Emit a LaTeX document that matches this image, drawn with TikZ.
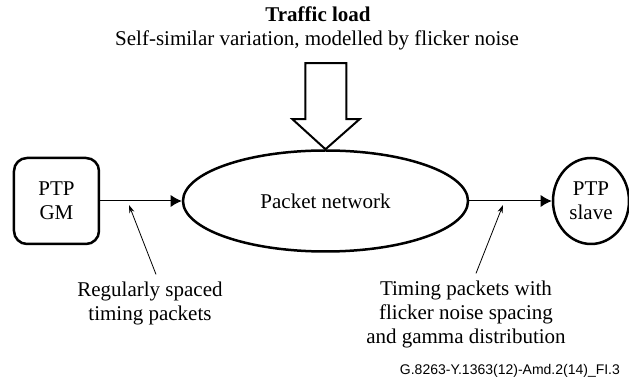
\documentclass[tikz,border=0pt]{standalone}
\usepackage{fontspec}
\setmainfont{Liberation Serif}
\setsansfont{Liberation Sans}
\usetikzlibrary{shapes.geometric,arrows.meta}
\begin{document}
\begin{tikzpicture}  [x=0.5pt,y=-0.5pt,
	every node/.style={font=\fontsize{10.5}{12}\selectfont, align=center},
	gmbox/.style={draw, line width=1.25pt, rounded corners=6.5pt, minimum width=42.5pt, minimum height=43pt, inner sep=0pt},
	netshape/.style={draw, ellipse, line width=1.25pt, minimum width=142.5pt, minimum height=50.5pt, inner sep=0pt},
	slaveshape/.style={draw, ellipse, line width=1.25pt, minimum width=38pt, minimum height=43pt, inner sep=0pt},
	flow/.style={-{Latex[length=5.5pt,width=6pt]}, line width=0.5pt},
	note/.style={-{Stealth[length=4pt,width=2.6pt]}, line width=0.4pt}]
			\useasboundingbox (0,0) rectangle (629,385);
			\coordinate (gmc) at(56.5,201);
			\coordinate (netc) at(325.5,201);
			\coordinate (slc) at(591,201);
			\coordinate (tipin) at(129,205);
			\coordinate (tipout) at(503,205);
			\node[gmbox] (gm) at(gmc) {PTP\\GM};
			\node[netshape] (net) at(netc) {Packet network};
			\node[slaveshape] (slave) at(slc) {PTP\\slave};
			\draw[flow] (gm) -- (net);
			\draw[flow] (net) -- (slave);
			\draw[line width=1pt, line join=miter] (net.north) -- ++(-33,-30) -- ++(13,0) -- ++(0,-56) -- ++(41,0) -- ++(0,56) -- ++(13,0) -- cycle;
			\node[anchor=base, font=\bfseries\fontsize{10.5}{12}\selectfont, inner sep=1pt] (load) at(318,22) {Traffic load};
			\node[anchor=base, inner sep=1pt] (loaddesc) at(317,46) {Self-similar variation, modelled by flicker noise};
			\node (regular) at(150,303) {Regularly spaced\\timing packets};
			\node (timing) at(466,314) {Timing packets with\\flicker noise spacing\\and gamma distribution};
			\draw[note] ([xshift=3pt]regular.north) -- (tipin);
			\draw[note] ([xshift=5pt]timing.north) -- (tipout);
			\node[anchor=base east, font=\sffamily\fontsize{7}{8}\selectfont] (figid) at(627,375) {G.8263-Y.1363(12)-Amd.2(14)\_FI.3};
		\end{tikzpicture}
\end{document}
